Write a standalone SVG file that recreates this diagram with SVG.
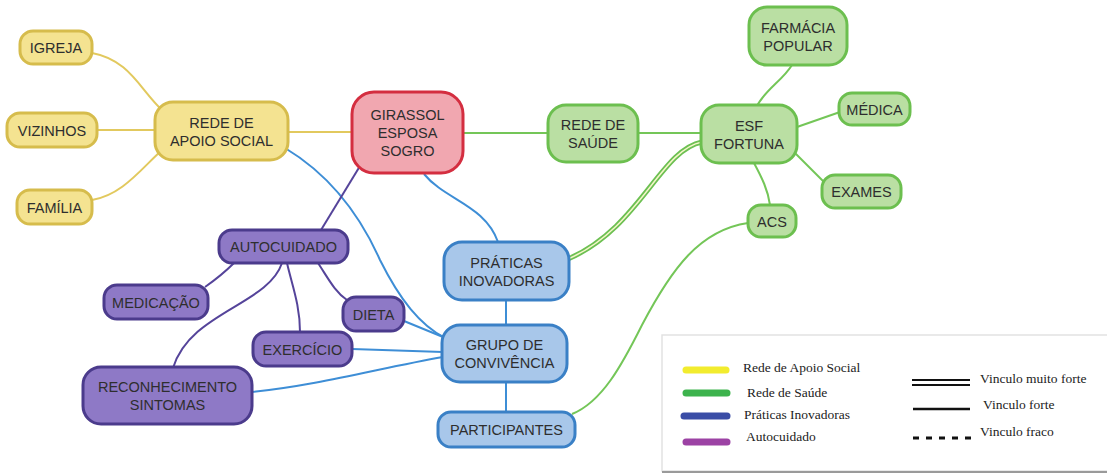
<svg xmlns="http://www.w3.org/2000/svg" width="1107" height="475" viewBox="0 0 1107 475">
<style>
.n rect{stroke-width:3}
.y rect{fill:#F4E391;stroke:#D6BC4C}
.r rect{fill:#F1A7B0;stroke:#D42E40}
.g rect{fill:#BADFA3;stroke:#6CBF4F}
.b rect{fill:#A8C7EA;stroke:#3A80C6}
.p rect{fill:#8E79C6;stroke:#4B3B8C}
.n text{font-family:"Liberation Sans",Arial,sans-serif;font-size:14.5px;fill:#2e2e2e;text-anchor:middle}
.e path{fill:none;stroke-width:2}
.ey{stroke:#E2C95E}
.eg{stroke:#74C658}
.eb{stroke:#3E8ED6}
.ep{stroke:#55449A}
.e path.dbl{stroke:#6CC052;stroke-width:5}
.e path.dblc{stroke:#F4F6C8;stroke-width:1.5}
.lg text{font-family:"Liberation Serif","Times New Roman",serif;font-size:13.5px;fill:#222}
</style>
<rect width="1107" height="475" fill="#fff"/>
<g id="connectors" class="e">
<path class="ey" d="M92,53 C130,60 140,90 163,111"/>
<path class="ey" d="M97,130 L155,130"/>
<path class="ey" d="M92,200 C122,195 140,170 162,150"/>
<path class="ey" d="M288,132 L352,132"/>
<path class="eg" d="M463,133 L548,133"/>
<path class="eg" d="M638,133 L701,133"/>
<path class="eg" d="M757,106 C765,90 783,80 792,65"/>
<path class="eg" d="M797,127 L840,112"/>
<path class="eg" d="M794,152 L824,182"/>
<path class="eg" d="M754,163 C762,178 768,190 770,205"/>
<path class="eg" d="M748,223 C700,230 672,268 642,325 C622,365 602,402 572,414"/>
<path class="dbl" d="M702,142 C660,150 640,228 568,259"/>
<path class="dblc" d="M702,142 C660,150 640,228 568,259"/>
<path class="eb" d="M424,174 C445,200 485,205 498,242"/>
<path class="eb" d="M285,148 C330,175 360,215 380,260 C400,300 420,325 445,338"/>
<path class="eb" d="M404,321 L443,337"/>
<path class="eb" d="M352,349 L443,352"/>
<path class="eb" d="M252,392 C320,385 380,368 443,357"/>
<path class="eb" d="M506,300 L506,325"/>
<path class="eb" d="M506,382 L506,412"/>
<path class="ep" d="M360,166 L321,230"/>
<path class="ep" d="M234,263 C225,272 215,280 205,287"/>
<path class="ep" d="M318,263 C328,278 335,292 347,300"/>
<path class="ep" d="M287,263 C292,285 300,305 300,332"/>
<path class="ep" d="M282,263 C268,305 190,312 173,368"/>
</g>
<g id="igreja" class="n y"><rect x="20" y="31" width="72" height="33" rx="13"/><text x="56" y="53">IGREJA</text></g>
<g id="vizinhos" class="n y"><rect x="7" y="113" width="90" height="34" rx="13"/><text x="52" y="135.5">VIZINHOS</text></g>
<g id="familia" class="n y"><rect x="17" y="190" width="75" height="34" rx="13"/><text x="54.5" y="212.5">FAMÍLIA</text></g>
<g id="rede-apoio" class="n y"><rect x="155" y="102" width="133" height="58" rx="18"/><text x="221.5" y="127.5">REDE DE</text><text x="221.5" y="145.5">APOIO SOCIAL</text></g>
<g id="girassol" class="n r"><rect x="352" y="92" width="111" height="81" rx="22"/><text x="407.5" y="120">GIRASSOL</text><text x="407.5" y="138">ESPOSA</text><text x="407.5" y="156">SOGRO</text></g>
<g id="rede-saude" class="n g"><rect x="548" y="105" width="90" height="57" rx="18"/><text x="593" y="130">REDE DE</text><text x="593" y="148">SAÚDE</text></g>
<g id="esf" class="n g"><rect x="701" y="105" width="96" height="58" rx="18"/><text x="749" y="130.5">ESF</text><text x="749" y="148.5">FORTUNA</text></g>
<g id="farmacia" class="n g"><rect x="749" y="7" width="98" height="58" rx="18"/><text x="798" y="32.5">FARMÁCIA</text><text x="798" y="50.5">POPULAR</text></g>
<g id="medica" class="n g"><rect x="839" y="93" width="71" height="32" rx="13"/><text x="874.5" y="114.5">MÉDICA</text></g>
<g id="exames" class="n g"><rect x="822" y="175" width="79" height="33" rx="13"/><text x="861.5" y="197">EXAMES</text></g>
<g id="acs" class="n g"><rect x="748" y="205" width="48" height="32" rx="13"/><text x="772" y="226.5">ACS</text></g>
<g id="autocuidado" class="n p"><rect x="219" y="230" width="129" height="33" rx="13"/><text x="283.5" y="252">AUTOCUIDADO</text></g>
<g id="medicacao" class="n p"><rect x="104" y="285" width="104" height="34" rx="13"/><text x="156" y="307.5">MEDICAÇÃO</text></g>
<g id="dieta" class="n p"><rect x="343" y="297" width="61" height="34" rx="13"/><text x="373.5" y="319.5">DIETA</text></g>
<g id="exercicio" class="n p"><rect x="253" y="332" width="99" height="34" rx="13"/><text x="302.5" y="354.5">EXERCÍCIO</text></g>
<g id="reconhecimento" class="n p"><rect x="83" y="367" width="169" height="57" rx="18"/><text x="167.5" y="392">RECONHECIMENTO</text><text x="167.5" y="410">SINTOMAS</text></g>
<g id="praticas" class="n b"><rect x="444" y="242" width="125" height="58" rx="18"/><text x="506.5" y="267.5">PRÁTICAS</text><text x="506.5" y="285.5">INOVADORAS</text></g>
<g id="grupo" class="n b"><rect x="442" y="325" width="125" height="57" rx="18"/><text x="504.5" y="350">GRUPO DE</text><text x="504.5" y="368">CONVIVÊNCIA</text></g>
<g id="participantes" class="n b"><rect x="438" y="412" width="137" height="35" rx="13"/><text x="506.5" y="435">PARTICIPANTES</text></g>
<g id="legend" class="lg">
<rect x="662" y="335" width="452" height="136" fill="#fff" stroke="#e2e2e2" stroke-width="1.5"/>
<line x1="662" y1="472" x2="1107" y2="472" stroke="#9a9a9a" stroke-width="2"/>
<g stroke-width="7" stroke-linecap="round">
<line x1="686" y1="370" x2="726" y2="370" stroke="#F2EC2E"/>
<line x1="686" y1="393" x2="727" y2="393" stroke="#3DB34D"/>
<line x1="684" y1="416" x2="727" y2="416" stroke="#3A4DA6"/>
<line x1="686" y1="442" x2="727" y2="442" stroke="#9C42A4"/>
</g>
<text x="743" y="372">Rede de Apoio Social</text>
<text x="747" y="397">Rede de Saúde</text>
<text x="744" y="419">Práticas Inovadoras</text>
<text x="746" y="441">Autocuidado</text>
<g stroke="#111" stroke-width="2.2">
<line x1="912" y1="380" x2="970" y2="380"/>
<line x1="912" y1="385" x2="970" y2="385"/>
<line x1="913" y1="409" x2="970" y2="409" stroke-width="2.5"/>
<line x1="913" y1="438" x2="972" y2="438" stroke-width="3" stroke-dasharray="6,7"/>
</g>
<text x="980" y="383">Vinculo muito forte</text>
<text x="983" y="409">Vinculo forte</text>
<text x="980" y="436">Vinculo fraco</text>
</g>
</svg>
